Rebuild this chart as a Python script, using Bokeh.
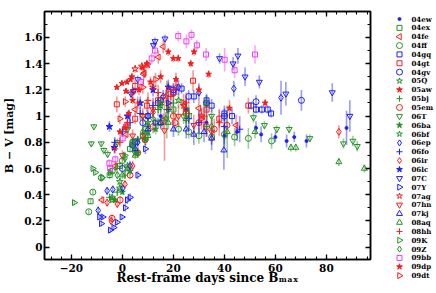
import numpy as np
from bokeh.plotting import figure
from bokeh.models import Range1d, LinearAxis, FixedTicker, CustomJSTickFormatter
from bokeh.layouts import row
from bokeh.embed import file_html
from bokeh.resources import INLINE
from bokeh.core.properties import value

# ---------------- data: rest-frame day, B-V colour, error ----------------
d_04ew = [15.0, 25.0, 33.0, 40.0, 45.0, 52.4, 54.4, 60.0, 64.4, 67.4, 72.2, 87.9]
c_04ew = [1.00, 1.05, 0.95, 0.85, 0.88, 0.91, 0.86, 0.84, 0.81, 0.84, 0.81, 0.91]
e_04ew = [0.08, 0.10, 0.10, 0.08, 0.07, 0.05, 0.06, 0.04, 0.05, 0.04, 0.05, 0.13]

d_04ex = [-12.5, -5.0, -1.0, 3.0, 8.0, 14.0, 20.0, 26.0]
c_04ex = [0.35, 0.55, 0.62, 0.75, 0.85, 0.95, 1.05, 1.00]
e_04ex = [0.02, 0.03, 0.03, 0.03, 0.04, 0.04, 0.05, 0.06]

d_04fe = [-8.0, -2.8, 1.5, 5.0, 8.3, 8.6, 14.1, 16.0, 21.0, 30.0, 44.6]
c_04fe = [0.36, 0.62, 0.86, 1.05, 1.32, 1.33, 1.45, 1.53, 1.22, 1.06, 0.93]
e_04fe = [0.03, 0.03, 0.03, 0.04, 0.05, 0.04, 0.05, 0.05, 0.06, 0.06, 0.08]

d_04ff = [-13.2, -11.6, -8.3, -4.0, 0.0, 4.0, 9.0, 15.0, 22.0, 26.0, 30.0, 35.0, 40.0, 44.0, 49.4, 58.5]
c_04ff = [0.27, 0.42, 0.53, 0.58, 0.66, 0.80, 0.90, 0.95, 0.90, 0.88, 0.85, 0.84, 0.86, 0.84, 0.83, 0.81]
e_04ff = [0.02, 0.02, 0.03, 0.03, 0.03, 0.03, 0.04, 0.04, 0.05, 0.05, 0.06, 0.06, 0.07, 0.07, 0.08, 0.06]

d_04gq = [5.0, 10.0, 15.0, 20.0, 23.2, 28.0, 33.0, 35.0, 40.0, 43.0, 50.5, 52.4, 54.7, 57.0, 58.3]
c_04gq = [0.80, 1.00, 1.12, 1.18, 1.21, 1.15, 1.12, 1.08, 1.02, 1.00, 1.08, 1.05, 1.05, 1.05, 1.02]
e_04gq = [0.03, 0.03, 0.04, 0.04, 0.04, 0.05, 0.05, 0.05, 0.06, 0.06, 0.03, 0.03, 0.03, 0.03, 0.03]

d_04gt = [-2.2, 1.5, 5.0, 5.0, 9.6, 14.0, 20.0, 27.7, 33.0, 38.0, 49.4]
c_04gt = [1.09, 0.92, 0.98, 1.23, 1.08, 1.12, 1.18, 1.27, 1.05, 0.98, 1.08]
e_04gt = [0.06, 0.04, 0.04, 0.05, 0.05, 0.06, 0.07, 0.08, 0.06, 0.07, 0.06]

d_04gv = [0.0, 4.0, 8.0, 14.0, 20.0, 26.0, 33.0, 40.0, 52.4, 70.2]
c_04gv = [0.60, 0.78, 0.95, 1.10, 1.20, 1.15, 1.10, 1.00, 1.11, 1.12]
e_04gv = [0.03, 0.03, 0.04, 0.04, 0.05, 0.05, 0.06, 0.06, 0.05, 0.08]

d_05Q = [-4.0, -1.0, 2.0, 6.0, 10.0, 15.0, 22.0]
c_05Q = [0.36, 0.45, 0.60, 0.82, 0.95, 1.08, 1.12]
e_05Q = [0.02, 0.02, 0.03, 0.03, 0.04, 0.05, 0.06]

d_05aw = [-2.2, -0.2, 1.4, 1.8, 3.2, 3.7, 7.9, 9.6, 18.0, 20.0, 21.9, 26.8, 28.1, 33.8, 56.0]
c_05aw = [1.22, 1.25, 1.19, 1.26, 1.28, 1.30, 1.37, 1.40, 1.49, 1.44, 1.44, 1.40, 1.49, 1.32, 1.10]
e_05aw = [0.02, 0.02, 0.02, 0.02, 0.02, 0.03, 0.03, 0.03, 0.03, 0.03, 0.03, 0.03, 0.03, 0.03, 0.03]

d_05bj = [-5.0, -2.0, 1.0, 5.0, 10.0, 14.0, 17.4, 20.0, 26.0, 33.0]
c_05bj = [0.38, 0.42, 0.55, 0.75, 0.92, 1.05, 1.05, 1.10, 1.02, 0.92]
e_05bj = [0.03, 0.03, 0.03, 0.04, 0.04, 0.05, 0.22, 0.06, 0.07, 0.08]

d_05em = [-4.1, -0.9, 3.0, 6.0, 8.9, 12.0, 16.0, 20.0, 20.6, 25.0, 30.0, 33.0, 36.0, 41.0]
c_05em = [0.22, 0.36, 0.55, 0.72, 0.82, 0.92, 0.96, 1.00, 0.95, 1.02, 0.95, 0.92, 0.90, 0.93]
e_05em = [0.03, 0.03, 0.03, 0.04, 0.04, 0.05, 0.06, 0.06, 0.06, 0.07, 0.07, 0.08, 0.08, 0.10]

d_06T = [-12.2, -11.2, -8.3, -7.3, -5.8, -2.0, 2.0, 8.0, 15.0, 25.0, 35.0, 51.4, 55.7, 60.5, 65.4, 73.5, 86.7, 90.4, 92.1]
c_06T = [0.79, 0.92, 0.79, 0.74, 0.71, 0.80, 0.90, 1.00, 1.10, 1.05, 1.00, 0.99, 0.93, 0.90, 0.90, 0.83, 0.79, 0.81, 0.77]
e_06T = [0.02, 0.02, 0.02, 0.02, 0.03, 0.03, 0.03, 0.04, 0.05, 0.05, 0.06, 0.04, 0.03, 0.03, 0.03, 0.03, 0.04, 0.04, 0.04]

d_06ba = [-3.0, 0.0, 3.0, 6.0, 9.0, 13.0]
c_06ba = [0.36, 0.42, 0.58, 0.72, 0.82, 0.90]
e_06ba = [0.02, 0.02, 0.03, 0.03, 0.04, 0.04]

d_06bf = [-4.0, -1.0, 2.0, 5.0, 10.0, 17.0]
c_06bf = [0.38, 0.50, 0.62, 0.72, 0.88, 0.98]
e_06bf = [0.02, 0.03, 0.03, 0.03, 0.04, 0.05]

d_06ep = [-9.5, -6.0, -3.8, 0.1, 3.0, 6.0, 10.0, 16.0, 22.0, 30.0, 43.7, 62.2]
c_06ep = [0.28, 0.43, 0.44, 0.45, 0.62, 0.80, 1.00, 1.15, 1.22, 1.18, 1.21, 1.14]
e_06ep = [0.03, 0.03, 0.03, 0.03, 0.04, 0.04, 0.05, 0.05, 0.06, 0.06, 0.06, 0.13]

d_06fo = [-3.0, 0.0, 3.0, 7.0, 12.0, 18.0, 26.0, 30.0, 40.0, 46.0]
c_06fo = [0.80, 0.88, 0.95, 1.02, 1.08, 1.05, 0.98, 0.95, 0.92, 0.90]
e_06fo = [0.04, 0.04, 0.05, 0.05, 0.06, 0.07, 0.08, 0.09, 0.10, 0.10]

d_06ir = [-6.0, -4.4, -2.0, 1.0, 4.0, 8.0, 12.0, 18.0, 25.0, 84.9]
c_06ir = [0.34, 0.20, 0.33, 0.48, 0.62, 0.85, 1.03, 1.08, 1.05, 0.88]
e_06ir = [0.03, 0.03, 0.03, 0.03, 0.04, 0.05, 0.05, 0.06, 0.07, 0.05]

d_06lc = [-5.1, -3.2, 2.0, 7.0, 12.0, 18.0]
c_06lc = [0.92, 0.76, 1.00, 1.10, 1.20, 1.22]
e_06lc = [0.04, 0.04, 0.04, 0.05, 0.05, 0.06]

d_07C = [3.4, 4.4, 6.0, 12.2, 12.8, 16.7, 38.1, 43.4, 45.3, 48.1, 53.7, 64.1, 82.3, 89.2]
c_07C = [1.17, 1.19, 1.28, 1.54, 1.57, 1.59, 1.44, 1.40, 1.46, 1.30, 1.26, 1.17, 1.18, 1.00]
e_07C = [0.03, 0.03, 0.03, 0.03, 0.03, 0.03, 0.04, 0.05, 0.06, 0.07, 0.05, 0.09, 0.07, 0.12]

d_07Y = [-9.0, -8.3, -7.7, -4.8, -3.4, -2.1, -0.2, 1.1, 1.9, 3.0, 6.0, 9.0, 13.0, 18.0]
c_07Y = [0.23, 0.18, 0.23, 0.13, 0.15, 0.19, 0.23, 0.30, 0.36, 0.38, 0.55, 0.75, 0.95, 1.10]
e_07Y = [0.02, 0.02, 0.02, 0.02, 0.02, 0.02, 0.02, 0.03, 0.03, 0.03, 0.03, 0.04, 0.04, 0.05]

d_07ag = [5.0, 7.6, 9.9, 12.0, 17.0, 24.0, 31.0]
c_07ag = [1.36, 1.38, 1.39, 1.22, 1.15, 1.08, 1.00]
e_07ag = [0.03, 0.03, 0.03, 0.04, 0.05, 0.05, 0.06]

d_07hn = [0.0, 4.0, 8.0, 12.0, 16.5, 22.0, 28.0, 35.0]
c_07hn = [0.70, 0.85, 1.00, 1.05, 0.89, 1.00, 0.93, 0.88]
e_07hn = [0.04, 0.05, 0.06, 0.07, 0.23, 0.08, 0.08, 0.09]

d_07kj = [5.0, 10.0, 15.0, 20.0, 25.0, 28.0, 32.0, 35.0, 39.8]
c_07kj = [0.75, 0.90, 0.95, 0.90, 0.90, 0.86, 0.88, 0.83, 0.74]
e_07kj = [0.04, 0.05, 0.05, 0.06, 0.07, 0.08, 0.08, 0.09, 0.15]

d_08aq = [0.0, 5.0, 10.0, 18.0, 25.0, 32.9, 41.1, 52.0, 66.1, 68.0, 84.9, 94.9]
c_08aq = [0.55, 0.70, 0.85, 0.95, 0.98, 1.10, 0.88, 0.88, 0.76, 0.76, 0.65, 0.60]
e_08aq = [0.03, 0.03, 0.04, 0.05, 0.05, 0.06, 0.20, 0.05, 0.03, 0.03, 0.03, 0.03]

d_08hh = [-3.0, -1.0, 2.0, 6.0, 10.0, 14.0, 19.0, 25.0, 32.0, 38.0]
c_08hh = [0.75, 0.80, 0.95, 1.10, 1.12, 1.18, 1.15, 1.10, 1.00, 0.95]
e_08hh = [0.04, 0.04, 0.05, 0.05, 0.06, 0.06, 0.07, 0.08, 0.09, 0.10]

d_09K = [-18.9, -11.6, -10.6, -8.0, -4.8, -2.1, 1.0, 4.0]
c_09K = [0.34, 0.60, 0.57, 0.53, 0.57, 0.61, 0.70, 0.80]
e_09K = [0.02, 0.02, 0.02, 0.02, 0.03, 0.03, 0.03, 0.04]

d_09Z = [-2.0, 1.0, 4.0, 8.0, 12.0, 18.0, 24.0, 35.0]
c_09Z = [0.55, 0.68, 0.78, 0.88, 0.98, 1.05, 1.00, 0.92]
e_09Z = [0.03, 0.03, 0.04, 0.04, 0.05, 0.06, 0.06, 0.08]

d_09bb = [-5.1, -4.8, -2.8, 0.1, 7.3, 11.5, 12.8, 21.9, 25.1, 27.1, 29.2, 32.8, 40.1, 44.0, 52.0]
c_09bb = [0.64, 0.60, 0.67, 0.83, 1.26, 1.44, 1.50, 1.61, 1.57, 1.62, 1.54, 1.47, 1.43, 1.35, 1.47]
e_09bb = [0.03, 0.03, 0.03, 0.03, 0.03, 0.04, 0.04, 0.04, 0.05, 0.04, 0.04, 0.05, 0.09, 0.06, 0.07]

d_09dp = [-1.0, 1.1, 2.5, 4.0, 6.5, 11.0, 15.0, 21.0, 30.0, 42.0]
c_09dp = [0.88, 0.91, 1.02, 1.12, 1.20, 1.26, 1.30, 1.28, 1.20, 1.06]
e_09dp = [0.03, 0.03, 0.03, 0.03, 0.04, 0.04, 0.05, 0.05, 0.05, 0.06]

d_09dt = [-1.0, 1.1, 4.0, 8.0, 13.0, 18.0, 24.0, 31.0]
c_09dt = [0.98, 1.11, 1.18, 1.22, 1.28, 1.20, 1.10, 0.98]
e_09dt = [0.04, 0.04, 0.04, 0.05, 0.05, 0.06, 0.07, 0.08]

x_ticks = [-20, 0, 20, 40, 60, 80]
y_ticks = [0, 0.2, 0.4, 0.6, 0.8, 1, 1.2, 1.4, 1.6]
x_title = "Rest-frame days since B\u2098\u2090\u2093"
y_title = "B \u2212 V [mag]"

# ---------------- styles ----------------
RED, GREEN, BLUE, MAG = "#f01e1e", "#259125", "#1e1ef5", "#f03cf0"
LEFT, RIGHT = np.pi / 2, -np.pi / 2
series = [
    ("04ew", d_04ew, c_04ew, e_04ew, "circle", BLUE, True, 0, 3),
    ("04ex", d_04ex, c_04ex, e_04ex, "square", GREEN, False, 0, 5),
    ("04fe", d_04fe, c_04fe, e_04fe, "triangle", RED, False, LEFT, 6),
    ("04ff", d_04ff, c_04ff, e_04ff, "circle", GREEN, False, 0, 6),
    ("04gq", d_04gq, c_04gq, e_04gq, "square", BLUE, False, 0, 5),
    ("04gt", d_04gt, c_04gt, e_04gt, "square", RED, False, 0, 5),
    ("04gv", d_04gv, c_04gv, e_04gv, "circle", BLUE, False, 0, 6),
    ("05Q", d_05Q, c_05Q, e_05Q, "star", GREEN, False, 0, 7),
    ("05aw", d_05aw, c_05aw, e_05aw, "star", RED, True, 0, 6),
    ("05bj", d_05bj, c_05bj, e_05bj, "cross", GREEN, False, 0, 7),
    ("05em", d_05em, c_05em, e_05em, "circle", RED, False, 0, 6),
    ("06T", d_06T, c_06T, e_06T, "inverted_triangle", GREEN, False, 0, 6),
    ("06ba", d_06ba, c_06ba, e_06ba, "star", GREEN, True, 0, 6),
    ("06bf", d_06bf, c_06bf, e_06bf, "star", GREEN, False, 0, 7),
    ("06ep", d_06ep, c_06ep, e_06ep, "diamond", BLUE, False, 0, 7),
    ("06fo", d_06fo, c_06fo, e_06fo, "cross", BLUE, False, 0, 7),
    ("06ir", d_06ir, c_06ir, e_06ir, "diamond", RED, False, 0, 7),
    ("06lc", d_06lc, c_06lc, e_06lc, "star", BLUE, True, 0, 7),
    ("07C", d_07C, c_07C, e_07C, "inverted_triangle", BLUE, False, 0, 6),
    ("07Y", d_07Y, c_07Y, e_07Y, "triangle", BLUE, False, RIGHT, 6),
    ("07ag", d_07ag, c_07ag, e_07ag, "star", RED, False, 0, 7),
    ("07hn", d_07hn, c_07hn, e_07hn, "inverted_triangle", RED, False, 0, 6),
    ("07kj", d_07kj, c_07kj, e_07kj, "triangle", BLUE, False, 0, 6),
    ("08aq", d_08aq, c_08aq, e_08aq, "triangle", GREEN, False, 0, 6),
    ("08hh", d_08hh, c_08hh, e_08hh, "cross", RED, False, 0, 7),
    ("09K", d_09K, c_09K, e_09K, "triangle", GREEN, False, RIGHT, 6),
    ("09Z", d_09Z, c_09Z, e_09Z, "diamond", GREEN, False, 0, 7),
    ("09bb", d_09bb, c_09bb, e_09bb, "square", MAG, False, 0, 5),
    ("09dp", d_09dp, c_09dp, e_09dp, "star", RED, True, 0, 6),
    ("09dt", d_09dt, c_09dt, e_09dt, "triangle", RED, False, RIGHT, 6),
]

FONT = "DejaVu Serif"
W_TOT, H_TOT = 436, 293                  # the page is drawn from the window's top-left corner
BL, BR, BT, BB = 42, 4, 11, 34           # borders of the main plot
FRAME_W = 328
W_MAIN = BL + FRAME_W + BR              # 374
W_LEG = W_TOT - W_MAIN                  # 62

p = figure(width=W_MAIN, height=H_TOT, x_range=Range1d(-30.56, 97.3), y_range=Range1d(-0.094, 1.798),
           toolbar_location=None, output_backend="svg",
           min_border_left=BL, min_border_right=BR, min_border_top=BT, min_border_bottom=BB)
p.grid.visible = False
p.outline_line_color = "black"
p.outline_line_width = 1.5
p.background_fill_color = "white"

fmt = CustomJSTickFormatter(code="return tick.toString().replace('-', '\u2212');")


def style_axis(ax, ticks, minor, show):
    ax.ticker = FixedTicker(ticks=ticks, minor_ticks=minor)
    ax.major_tick_in = 5
    ax.major_tick_out = 0
    ax.minor_tick_in = 3
    ax.minor_tick_out = 0
    ax.major_tick_line_width = 1.3
    ax.minor_tick_line_width = 1.1
    ax.axis_line_width = 1.5
    ax.axis_line_color = "black"
    ax.major_tick_line_color = "black"
    ax.minor_tick_line_color = "black"
    if show:
        ax.formatter = fmt
        ax.major_label_text_font = FONT
        ax.major_label_text_font_style = "bold"
        ax.major_label_text_font_size = "10.5px"
        ax.major_label_text_color = "black"
        ax.axis_label_text_font = FONT
        ax.axis_label_text_font_style = "bold"
        ax.axis_label_text_color = "black"
    else:
        ax.major_label_text_color = None
        ax.major_label_text_font_size = "1px"
        ax.major_label_standoff = 0


x_minor = [v for v in range(-28, 97, 4)]
y_minor = [round(v * 0.1, 1) for v in range(0, 18)]

xa = p.xaxis[0]
style_axis(xa, x_ticks, x_minor, True)
xa.major_label_standoff = 4
xa.axis_label = x_title
xa.axis_label_text_font_size = "12px"
xa.axis_label_standoff = -4
ya = p.yaxis[0]
style_axis(ya, y_ticks, y_minor, True)
ya.major_label_standoff = 2
ya.axis_label = y_title
ya.axis_label_text_font_size = "11px"
ya.axis_label_standoff = 5
top = LinearAxis()
style_axis(top, x_ticks, x_minor, False)
p.add_layout(top, "above")
rgt = LinearAxis()
style_axis(rgt, y_ticks, y_minor, False)
p.add_layout(rgt, "right")

# error bars first
for name, d, c, e, mk, col, filled, ang, sz in series:
    lo = [ci - ei for ci, ei in zip(c, e)]
    hi = [ci + ei for ci, ei in zip(c, e)]
    p.segment(x0=d, y0=lo, x1=d, y1=hi, line_color=col, line_alpha=0.45, line_width=1.6)

for name, d, c, e, mk, col, filled, ang, sz in series:
    p.scatter(x=d, y=c, marker=mk, size=sz, angle=ang, line_color=col, line_width=1.0,
              fill_color=col if filled else None)

# legend strip (pixel coordinates, y downwards)
leg = figure(width=W_LEG, height=H_TOT, frame_width=W_LEG, frame_height=H_TOT,
             x_range=Range1d(0, W_LEG), y_range=Range1d(H_TOT, 0),
             toolbar_location=None, output_backend="svg",
             min_border=0, min_border_left=0, min_border_right=0, min_border_top=0,
             min_border_bottom=0, x_axis_location=None, y_axis_location=None)
leg.grid.visible = False
leg.outline_line_color = None
top_y, pitch = 7.5, 8.85
for i, (name, d, c, e, mk, col, filled, ang, sz) in enumerate(series):
    yy = top_y + i * pitch
    leg.scatter(x=[25], y=[yy], marker=mk, size=min(sz, 6), angle=ang, line_color=col, line_width=1,
                fill_color=col if filled else None)
    leg.text(x=[37], y=[yy], text=[name], text_font=value(FONT), text_font_style="bold",
             text_font_size="7px", text_baseline="middle", text_align="left", text_color="black")

layout = row(p, leg)
open("out.html", "w").write(file_html(layout, INLINE))
